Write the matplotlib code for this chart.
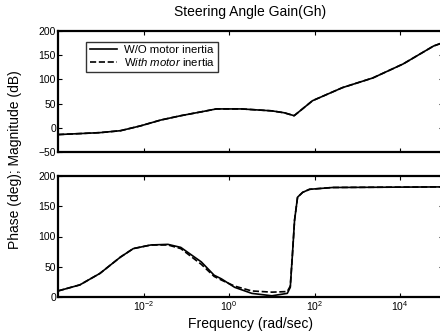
import matplotlib
matplotlib.use("Agg")
from matplotlib import pyplot as plt

plt.rcParams['font.family'] = ['Liberation Sans', 'DejaVu Sans']
plt.rcParams['mathtext.fontset'] = 'custom'
plt.rcParams['mathtext.rm'] = 'Liberation Sans'
plt.rcParams['mathtext.it'] = 'Liberation Sans:italic'

# frequencies (rad/sec) as log10 values
mag_logf = [-4.0, -3.5, -3.02, -2.54, -2.07, -1.6, -1.13, -0.65, -0.3, 0.29, 1.0,
            1.29, 1.52, 1.95, 2.65, 3.36, 4.07, 4.78, 5.0]
mag_wo = [-14, -12, -10, -6, 4, 16, 25, 33, 39, 39, 35, 31, 25, 56, 83, 103, 132, 169, 176]
mag_with = [-14, -12, -10, -6, 4, 16, 25, 33, 39, 39, 35, 31, 25, 56, 83, 103, 132, 169, 176]

ph_logf = [-4.0, -3.49, -3.02, -2.54, -2.24, -1.83, -1.43, -1.13, -0.65, -0.35, -0.18,
           0.13, 0.53, 1.0, 1.36, 1.43, 1.48, 1.53, 1.6, 1.72, 1.88, 2.42, 5.0]
ph_wo = [10, 20, 39, 66, 80, 86, 87, 82, 58, 36, 30, 16, 6, 2, 6, 16, 70, 127, 165, 173, 178, 181, 182]
ph_with = [10, 20, 39, 66, 80, 86, 86, 80, 54, 34, 28, 18, 10, 8, 9, 18, 70, 127, 165, 173, 178, 181, 182]

xtick_vals = [1e-2, 1e0, 1e2, 1e4]
xtick_labels = ['10$^{-2}$', '10$^{0}$', '10$^{2}$', '10$^{4}$']

fig = plt.figure(figsize=(4.4, 3.36), dpi=100)
W, H = 440.0, 336.0
ax1 = fig.add_axes([58 / W, 1 - 152 / H, 385 / W, 121 / H])
ax2 = fig.add_axes([58 / W, 1 - 297 / H, 385 / W, 121 / H])

f_mag = [10 ** v for v in mag_logf]
f_ph = [10 ** v for v in ph_logf]

ax1.semilogx(f_mag, mag_wo, 'k-', lw=1.2, label='W/O motor inertia')
ax1.semilogx(f_mag, mag_with, 'k--', lw=1.2, label='W$\\it{ith\\ motor}$ inertia')
ax2.semilogx(f_ph, ph_wo, 'k-', lw=1.2)
ax2.semilogx(f_ph, ph_with, 'k--', lw=1.2)

for ax in (ax1, ax2):
    ax.set_xlim(1e-4, 1e5)
    ax.set_xticks(xtick_vals)
    ax.minorticks_off()
    ax.tick_params(direction='in', top=True, right=True, length=3, labelsize=7.5, pad=1.5)
    for s in ax.spines.values():
        s.set_linewidth(1.6)

ax1.set_ylim(-50, 200)
ax1.set_yticks([-50, 0, 50, 100, 150, 200])
ax1.set_xticklabels([])
ax2.set_ylim(0, 200)
ax2.set_yticks([0, 50, 100, 150, 200])
ax2.set_xticklabels(xtick_labels)

ax1.set_title('Steering Angle Gain(Gh)', fontsize=10, pad=11)
ax2.set_xlabel('Frequency (rad/sec)', fontsize=10, labelpad=3)
fig.text(15 / W, 1 - 160 / H, 'Phase (deg); Magnitude (dB)', rotation=90,
         ha='center', va='center', fontsize=10)

leg = ax1.legend(loc='upper left', bbox_to_anchor=(0.073, 0.91), fontsize=8.2,
                 frameon=True, fancybox=False, handlelength=2.4, borderpad=0.3,
                 labelspacing=0.1, handletextpad=0.6, borderaxespad=0)
leg.get_frame().set_edgecolor('black')
leg.get_frame().set_linewidth(1.0)

fig.savefig('out.png', dpi=100)
